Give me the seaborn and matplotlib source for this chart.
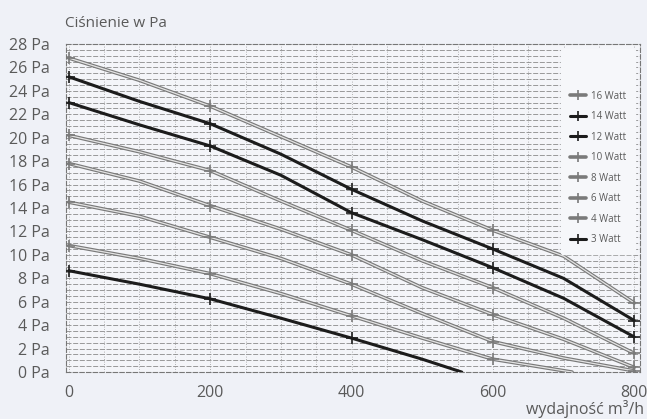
import pandas as pd
import matplotlib.pyplot as plt
import seaborn as sns
from matplotlib.ticker import MultipleLocator
from matplotlib.lines import Line2D

# values (flow m3/h -> pressure Pa)
flow = [0, 100, 200, 300, 400, 500, 600, 700, 800]
p16 = [26.8, 24.9, 22.7, 20.1, 17.5, 14.6, 12.1, 9.9, 5.9]
p14 = [25.2, 23.1, 21.2, 18.6, 15.6, 12.9, 10.5, 8.0, 4.4]
p12 = [23.0, 21.1, 19.3, 16.8, 13.6, 11.3, 8.9, 6.3, 3.0]
p10 = [20.2, 18.8, 17.2, 14.6, 12.1, 9.5, 7.2, 4.6, 1.6]
p8 = [17.8, 16.3, 14.2, 12.2, 10.0, 7.2, 4.9, 2.8, 0.4]
p6 = [14.5, 13.3, 11.5, 9.7, 7.5, 5.0, 2.6, 1.2, 0.1]
flow4 = [0, 100, 200, 300, 400, 500, 600, 712]
p4 = [10.8, 9.7, 8.4, 6.7, 4.8, 2.9, 1.1, 0.0]
flow3 = [0, 100, 200, 300, 400, 500, 556]
p3 = [8.65, 7.5, 6.25, 4.6, 2.9, 1.1, 0.0]

series = ['16 Watt', '14 Watt', '12 Watt', '10 Watt', '8 Watt', '6 Watt', '4 Watt', '3 Watt']
black_series = ['14 Watt', '12 Watt', '3 Watt']

rows = []
for name, xs, ys in [('16 Watt', flow, p16), ('14 Watt', flow, p14), ('12 Watt', flow, p12),
                     ('10 Watt', flow, p10), ('8 Watt', flow, p8), ('6 Watt', flow, p6),
                     ('4 Watt', flow4, p4), ('3 Watt', flow3, p3)]:
    for x, y in zip(xs, ys):
        rows.append({'flow': x, 'pressure': y, 'power': name})
df = pd.DataFrame(rows)
ticks_df = df[df['flow'] % 200 == 0]

sns.set_style('white')
plt.rcParams['font.family'] = ['Open Sans', 'DejaVu Sans']

bg = '#eff1f7'
txt = '#5a5a5a'
fig = plt.figure(figsize=(6.47, 4.19), dpi=100, facecolor=bg)
ax = fig.add_axes([0.102, 0.112, 0.887, 0.783])
ax.set_facecolor('#f4f5f9')

outer_pal = {s: ('#1c1c1c' if s in black_series else '#7a7a7a') for s in series}
width = {s: (2.2 if s in black_series else 2.6) for s in series}

for s in series:
    sub = df[df['power'] == s]
    sns.lineplot(data=sub, x='flow', y='pressure', color=outer_pal[s], lw=width[s],
                 ax=ax, legend=False, zorder=3)
    if s not in black_series:
        # grey curves are drawn as double lines with a light core
        sns.lineplot(data=sub, x='flow', y='pressure', color='#e4e4e4', lw=0.9,
                     ax=ax, legend=False, zorder=4)
    tsub = ticks_df[ticks_df['power'] == s]
    sns.scatterplot(data=tsub, x='flow', y='pressure', marker='+', s=70,
                    color=outer_pal[s], linewidth=1.2, ax=ax, legend=False, zorder=5)

ax.set_xlim(-4, 808)
ax.set_ylim(0, 28)
ax.xaxis.set_major_locator(MultipleLocator(200))
ax.xaxis.set_minor_locator(MultipleLocator(50))
ax.yaxis.set_major_locator(MultipleLocator(2))
ax.yaxis.set_minor_locator(MultipleLocator(0.5))
ax.set_yticklabels([f'{int(v)} Pa' for v in ax.get_yticks()])
ax.grid(which='both', axis='y', color='#8a8a8a', lw=0.6, ls=(0, (6, 2)), zorder=1)
ax.grid(which='both', axis='x', color='#9a9a9a', lw=0.6, ls=(0, (1, 2)), zorder=1)
ax.tick_params(axis='both', which='both', length=0, colors=txt, labelsize=11.5)
ax.tick_params(axis='y', pad=12)
ax.tick_params(axis='x', pad=9)
for sp in ax.spines.values():
    sp.set_color('#777777')
    sp.set_linewidth(0.8)
    sp.set_linestyle((0, (4, 2)))
ax.set_xlabel('')
ax.set_ylabel('')

fig.text(0.100, 0.935, 'Ciśnienie w Pa', color=txt, fontsize=11, ha='left')
fig.text(0.995, 0.012, 'wydajność m³/h', color=txt, fontsize=11.5, ha='right')

handles = []
for s in series:
    if s in black_series:
        handles.append(Line2D([], [], color='#1c1c1c', lw=2.2, marker='+', ms=7, mew=1.2))
    else:
        handles.append(Line2D([], [], color='#7a7a7a', lw=2.6, marker='+', ms=7, mew=1.2))
leg = ax.legend(handles, series, loc='upper right', frameon=True, fontsize=7,
                handlelength=1.7, handletextpad=0.5, labelspacing=0.98, borderpad=0.9,
                labelcolor=txt, bbox_to_anchor=(1.0, 1.0), title='\n', title_fontsize=7)
leg.get_frame().set_facecolor('#f6f7fa')
leg.get_frame().set_edgecolor('#f6f7fa')
leg.get_frame().set_alpha(1)

plt.savefig('out.png', dpi=100, facecolor=bg)
plt.close()
